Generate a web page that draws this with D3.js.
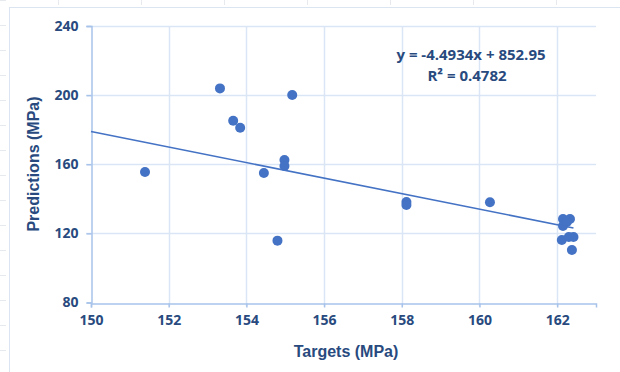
<!DOCTYPE html>
<html>
<head>
<meta charset="utf-8">
<script src="https://cdn.jsdelivr.net/npm/d3@7"></script>
<style>
  html, body { margin: 0; padding: 0; background: #fff; }
  svg { display: block; }
</style>
</head>
<body>
<svg id="chart" width="620" height="372"></svg>
<script>
// Measured vs. predicted strength (MPa)
const targets = [151.39, 153.32, 153.66, 153.84, 155.18, 154.98, 154.98, 154.45, 154.80,
                 158.12, 158.12, 160.27, 162.15, 162.33, 162.15, 162.25, 162.12, 162.30, 162.42, 162.38];
const predictions = [155.5, 203.9, 185.2, 181.1, 200.1, 162.5, 159.0, 154.9, 115.8,
                     138.2, 136.4, 138.0, 128.3, 128.3, 124.3, 126.6, 116.2, 117.9, 117.9, 110.4];

const xTicks = [150, 152, 154, 156, 158, 160, 162];
const yTicks = [80, 120, 160, 200, 240];

// Linear trendline y = slope * x + intercept
const slope = -4.4934;
const intercept = 852.95;
const rSquared = 0.4782;

const svg = d3.select("#chart");
const textColor = "#284a7e";
const markColor = "#4472c4";
const gridColor = "#dae5f6";
const axisColor = "#a8c3ea";

// sheet cell marks around the chart frame
const sheet = svg.append("g").attr("stroke", "#e6e9ee").attr("stroke-width", 1);
d3.range(0.5, 372, 25).forEach(y => sheet.append("line").attr("x1", 0).attr("x2", 6).attr("y1", y).attr("y2", y));
d3.range(58.5, 620, 83).forEach(x => sheet.append("line").attr("x1", x).attr("x2", x).attr("y1", 0).attr("y2", 5));

// chart frame
svg.append("rect")
  .attr("x", 9.5).attr("y", 7.5).attr("width", 640).attr("height", 400)
  .attr("fill", "#fff").attr("stroke", "#dbe4f1").attr("stroke-width", 1);

const x = d3.scaleLinear().domain([150, 163]).range([91, 596]);
const y = d3.scaleLinear().domain([80, 240]).range([302.5, 26]);

// gridlines
const grid = svg.append("g");
grid.selectAll("line.gx").data(xTicks.slice(1)).join("line")
  .attr("x1", d => Math.round(x(d)) + 0.5).attr("x2", d => Math.round(x(d)) + 0.5)
  .attr("y1", y(240)).attr("y2", y(80) + 4)
  .attr("stroke", gridColor).attr("stroke-width", 1.5);
grid.selectAll("line.gy").data(yTicks.slice(1)).join("line")
  .attr("x1", x(150) - 5).attr("x2", x(163))
  .attr("y1", d => Math.round(y(d)) + 0.5).attr("y2", d => Math.round(y(d)) + 0.5)
  .attr("stroke", gridColor).attr("stroke-width", 1.5);

// axes
const xAxis = svg.append("g")
  .attr("transform", `translate(0,${Math.round(y(80)) + 0.5})`)
  .call(d3.axisBottom(x).tickValues(xTicks).tickSize(4).tickPadding(8).tickFormat(d3.format("d")));
const yAxis = svg.append("g")
  .attr("transform", `translate(${Math.round(x(150)) + 0.5},0)`)
  .call(d3.axisLeft(y).tickValues(yTicks).tickSize(5).tickPadding(8).tickFormat(d3.format("d")));

[xAxis, yAxis].forEach(g => {
  g.select(".domain").attr("stroke", axisColor).attr("stroke-width", 1.5);
  g.selectAll(".tick line").attr("stroke", axisColor).attr("stroke-width", 1.5);
  g.selectAll(".tick text")
    .attr("fill", textColor)
    .style("font-family", "'Open Sans', sans-serif")
    .style("font-weight", "700")
    .style("font-size", "14px");
});

// data points
svg.append("g").selectAll("circle")
  .data(targets.map((t, i) => [t, predictions[i]]))
  .join("circle")
  .attr("cx", d => x(d[0]))
  .attr("cy", d => y(d[1]))
  .attr("r", 5)
  .attr("fill", markColor);

// trendline
const x0 = 150, x1 = d3.max(targets);
svg.append("line")
  .attr("x1", x(x0)).attr("y1", y(slope * x0 + intercept))
  .attr("x2", x(x1)).attr("y2", y(slope * x1 + intercept))
  .attr("stroke", markColor).attr("stroke-width", 1.6);

// equation
const eq = svg.append("g")
  .attr("fill", textColor)
  .style("font-family", "'Open Sans', sans-serif")
  .style("font-weight", "700")
  .style("font-size", "15px")
  .attr("text-anchor", "middle");
eq.append("text").attr("x", 471).attr("y", 60)
  .text(`y = ${slope}x + ${intercept}`);
eq.append("text").attr("x", 467).attr("y", 81)
  .text(`R² = ${rSquared}`);

// axis titles
svg.append("text")
  .attr("x", 346).attr("y", 357)
  .attr("text-anchor", "middle")
  .attr("fill", textColor)
  .style("font-family", "'Liberation Sans', Arial, sans-serif")
  .style("font-weight", "700")
  .style("font-size", "16px")
  .text("Targets (MPa)");

svg.append("text")
  .attr("transform", "translate(39,164) rotate(-90)")
  .attr("text-anchor", "middle")
  .attr("fill", textColor)
  .style("font-family", "'Liberation Sans', Arial, sans-serif")
  .style("font-weight", "700")
  .style("font-size", "16px")
  .text("Predictions (MPa)");
</script>
</body>
</html>
